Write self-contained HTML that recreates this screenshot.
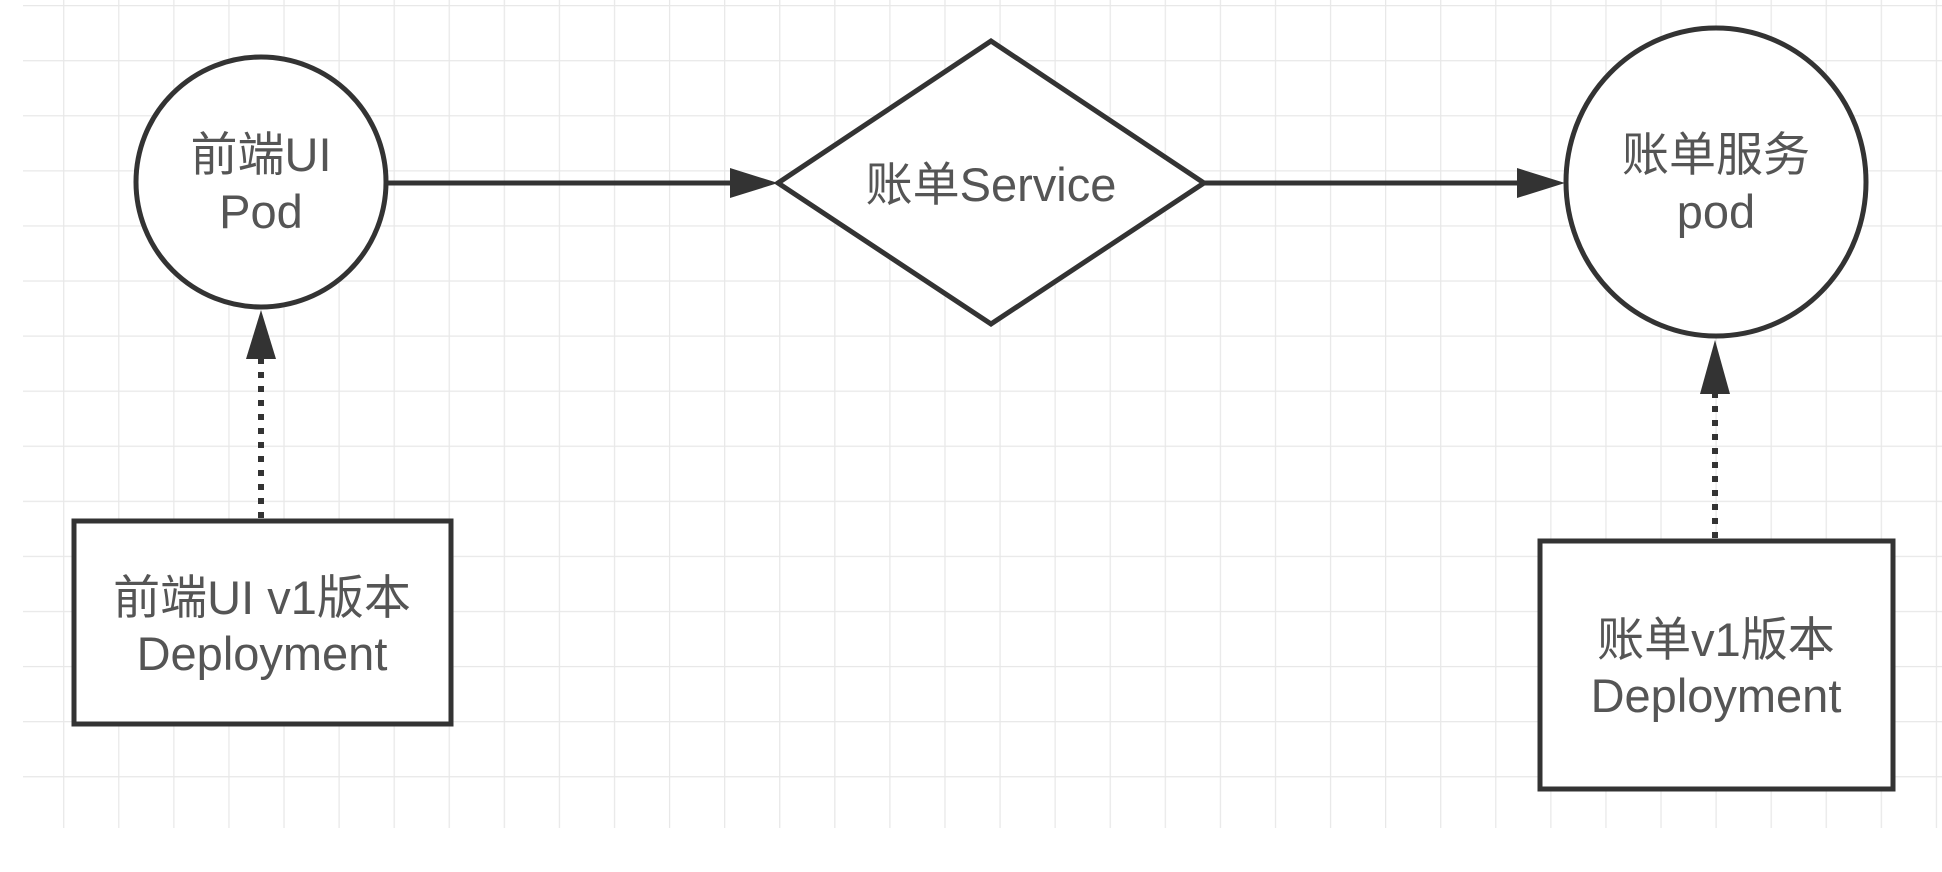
<!DOCTYPE html>
<html><head><meta charset="utf-8"><style>
html,body{margin:0;padding:0;background:#fff;width:1942px;height:872px;overflow:hidden}
svg{display:block}
text{font-family:"Liberation Sans","Noto Sans CJK SC",sans-serif;fill:#555;font-size:47px}
</style></head><body>
<svg width="1942" height="872" viewBox="0 0 1942 872" xmlns="http://www.w3.org/2000/svg">
<defs>
<pattern id="g" x="8" y="5" width="55.08" height="55.08" patternUnits="userSpaceOnUse">
<path d="M0 0V55.08M0 0H55.08" stroke="#e8e8e8" stroke-width="2.5" fill="none"/>
</pattern>
</defs>
<rect x="23" y="0" width="1919" height="828" fill="url(#g)"/>
<g stroke="#333" stroke-width="5" fill="#fff">
<circle cx="261" cy="182" r="125"/>
<polygon points="778,183 991,41 1204,183 991,324"/>
<ellipse cx="1716" cy="182" rx="150" ry="154"/>
<rect x="74" y="521" width="377" height="203"/>
<rect x="1540" y="541" width="353" height="248"/>
</g>
<g stroke="#333" stroke-width="5">
<line x1="386" y1="183" x2="735" y2="183"/>
<line x1="1204" y1="183" x2="1522" y2="183"/>
<line x1="261" y1="518" x2="261" y2="355" stroke-dasharray="6 8" stroke-width="6"/>
<line x1="1715" y1="538" x2="1715" y2="390" stroke-dasharray="6 8" stroke-width="6"/>
</g>
<g fill="#333">
<polygon points="730,168 778,183 730,198"/>
<polygon points="1517,168 1565,183 1517,198"/>
<polygon points="246,359 261,310 276,359"/>
<polygon points="1700,394 1715,340 1730,394"/>
</g>
<text x="261" y="171" text-anchor="middle">前端UI</text>
<text x="261" y="228" text-anchor="middle">Pod</text>
<text x="991" y="201" text-anchor="middle">账单Service</text>
<text x="1716" y="171" text-anchor="middle">账单服务</text>
<text x="1716" y="228" text-anchor="middle">pod</text>
<text x="262" y="614" text-anchor="middle">前端UI v1版本</text>
<text x="262" y="670" text-anchor="middle">Deployment</text>
<text x="1716" y="656" text-anchor="middle">账单v1版本</text>
<text x="1716" y="712" text-anchor="middle">Deployment</text>
</svg>
</body></html>
